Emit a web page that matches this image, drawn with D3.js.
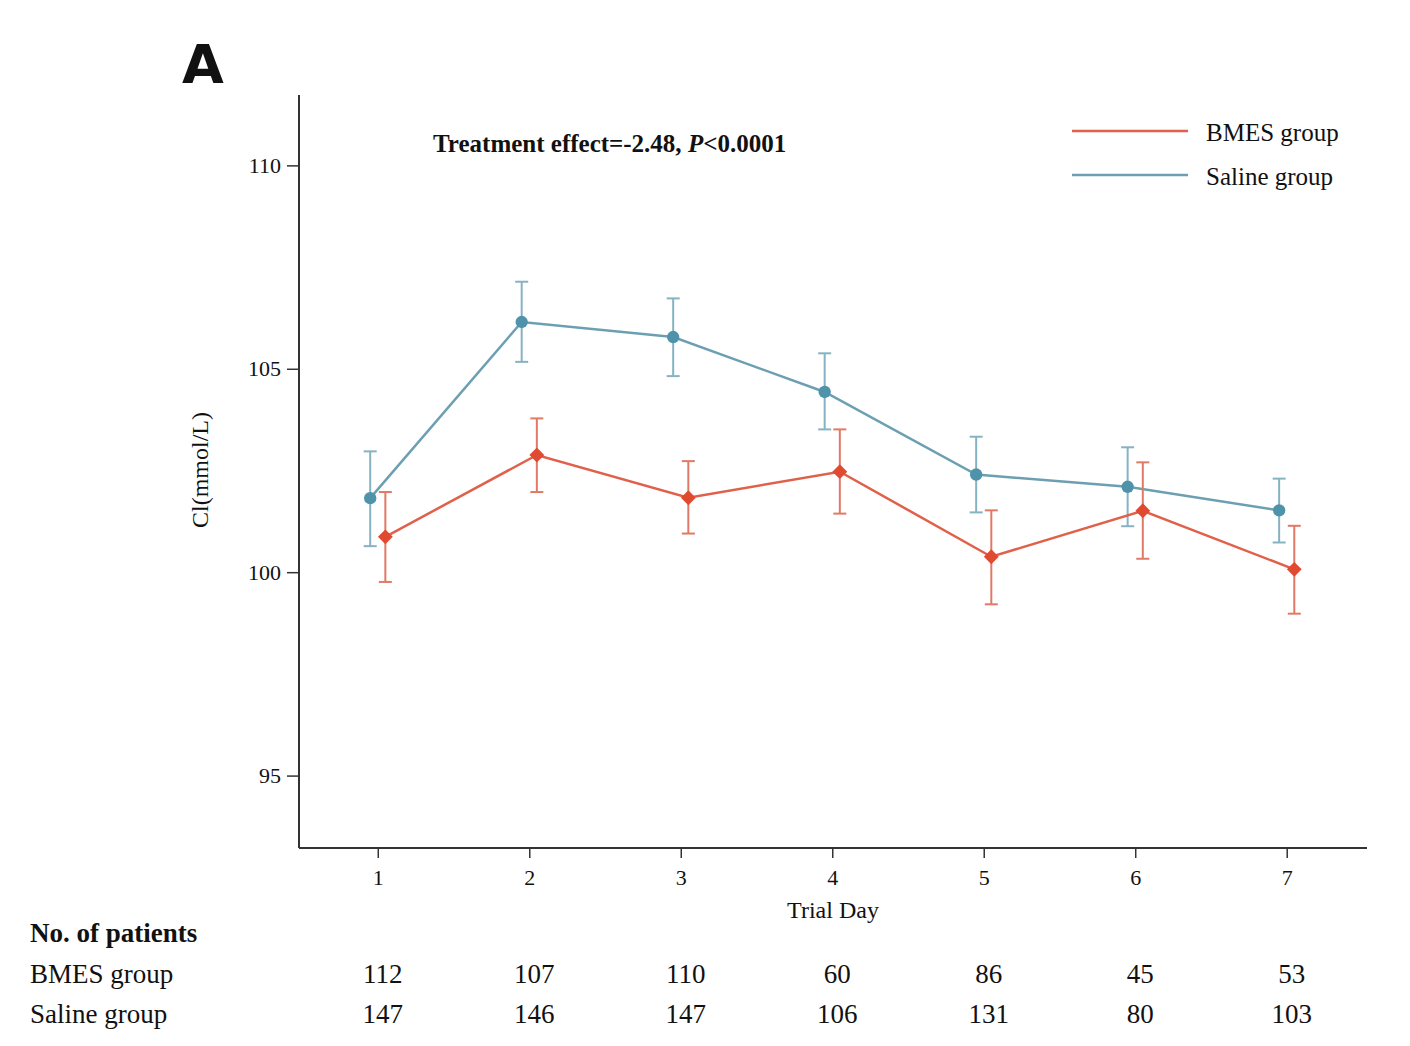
<!DOCTYPE html>
<html>
<head>
<meta charset="utf-8">
<script src="https://cdn.jsdelivr.net/npm/d3@7"></script>
<style>
  body { margin: 0; background: #fff; }
  text { font-family: "Liberation Serif", "Times New Roman", serif; fill: #111; }
</style>
</head>
<body>
<div id="chart"></div>
<script>
"use strict";

// trial days on the x axis
const days = [1, 2, 3, 4, 5, 6, 7];
const yTicks = [95, 100, 105, 110];

// Cl (mmol/L), mean with lower / upper error bars
const salineMean  = [101.82, 106.15, 105.78, 104.43, 102.40, 102.10, 101.52];
const salineLow   = [100.64, 105.17, 104.82, 103.51, 101.47, 101.13, 100.73];
const salineHigh  = [102.97, 107.14, 106.73, 105.38, 103.33, 103.07, 102.30];

const bmesMean    = [100.87, 102.88, 101.83, 102.47, 100.38, 101.51, 100.07];
const bmesLow     = [99.76, 101.97, 100.95, 101.44, 99.21, 100.33, 98.98];
const bmesHigh    = [101.97, 103.78, 102.73, 103.51, 101.52, 102.70, 101.14];

// number of patients per day
const bmesCount   = [112, 107, 110, 60, 86, 45, 53];
const salineCount = [147, 146, 147, 106, 131, 80, 103];

const seriesNames = ["BMES group", "Saline group"];

const width = 1410, height = 1046;
const red = "#e04a31", redLine = "#e0614a", redBar = "#e07a66";
const blue = "#4f93ab", blueLine = "#6c9fb1", blueBar = "#86b3c3";

const svg = d3.select("#chart").append("svg")
  .attr("width", width)
  .attr("height", height);

/* scales */
const x = d3.scaleLinear().domain([0.48, 7.53]).range([299, 1367]);
const y = d3.scaleLinear().domain([93.22, 111.73]).range([848, 95]);

/* axes */
const yAxis = svg.append("g")
  .attr("transform", "translate(299,0)")
  .call(d3.axisLeft(y).tickValues(yTicks).tickSize(12).tickPadding(6));
const xAxis = svg.append("g")
  .attr("transform", "translate(0,848)")
  .call(d3.axisBottom(x).tickValues(days).tickFormat(d3.format("d")).tickSize(10).tickPadding(11));

[yAxis, xAxis].forEach(function(a) {
  a.select(".domain").attr("stroke", "#333").attr("stroke-width", 2);
  a.selectAll(".tick line").attr("stroke", "#333").attr("stroke-width", 1.5);
  a.selectAll(".tick text")
    .style("font-family", "Liberation Serif, serif")
    .style("font-size", "22px")
    .attr("fill", "#222");
});
// make the axis lines span the full plot without end caps
xAxis.select(".domain").attr("d", "M299,0H1367");
yAxis.select(".domain").attr("d", "M0,95V848");

/* axis titles */
svg.append("text")
  .attr("x", 833).attr("y", 918)
  .attr("text-anchor", "middle")
  .style("font-size", "24px")
  .text("Trial Day");

svg.append("text")
  .attr("transform", "translate(208,470) rotate(-90)")
  .attr("text-anchor", "middle")
  .style("font-size", "24px")
  .text("Cl(mmol/L)");

/* panel letter */
svg.append("text")
  .attr("x", 182).attr("y", 83)
  .style("font-family", "DejaVu Sans, sans-serif")
  .style("font-size", "54px")
  .style("font-weight", "bold")
  .text("A");

/* annotation */
const note = svg.append("text")
  .attr("x", 433).attr("y", 152)
  .style("font-size", "25px")
  .style("font-weight", "bold");
note.append("tspan").text("Treatment effect=-2.48, ");
note.append("tspan").style("font-style", "italic").text("P");
note.append("tspan").text("<0.0001");

/* series drawing */
function drawSeries(mean, low, high, offset, lineColor, barColor, markColor, marker) {
  const pts = days.map(function(d, i) {
    return { day: d, m: mean[i], lo: low[i], hi: high[i] };
  });
  const g = svg.append("g");

  // error bars
  const eb = g.selectAll(".eb").data(pts).enter().append("g")
    .attr("stroke", barColor).attr("stroke-width", 2);
  eb.append("line")
    .attr("x1", function(d) { return x(d.day + offset); })
    .attr("x2", function(d) { return x(d.day + offset); })
    .attr("y1", function(d) { return y(d.lo); })
    .attr("y2", function(d) { return y(d.hi); });
  eb.append("line")
    .attr("x1", function(d) { return x(d.day + offset) - 6.5; })
    .attr("x2", function(d) { return x(d.day + offset) + 6.5; })
    .attr("y1", function(d) { return y(d.hi); })
    .attr("y2", function(d) { return y(d.hi); });
  eb.append("line")
    .attr("x1", function(d) { return x(d.day + offset) - 6.5; })
    .attr("x2", function(d) { return x(d.day + offset) + 6.5; })
    .attr("y1", function(d) { return y(d.lo); })
    .attr("y2", function(d) { return y(d.lo); });

  // line
  g.append("path")
    .datum(pts)
    .attr("fill", "none")
    .attr("stroke", lineColor)
    .attr("stroke-width", 2.5)
    .attr("d", d3.line()
      .x(function(d) { return x(d.day + offset); })
      .y(function(d) { return y(d.m); }));

  // markers
  g.selectAll(".mk").data(pts).enter().append("path")
    .attr("transform", function(d) {
      return "translate(" + x(d.day + offset) + "," + y(d.m) + ")" + (marker === "diamond" ? " rotate(45)" : "");
    })
    .attr("d", marker === "diamond"
      ? d3.symbol().type(d3.symbolSquare).size(110)()
      : d3.symbol().type(d3.symbolCircle).size(120)())
    .attr("fill", markColor);
}

drawSeries(salineMean, salineLow, salineHigh, -0.05, blueLine, blueBar, blue, "circle");
drawSeries(bmesMean, bmesLow, bmesHigh, 0.05, redLine, redBar, red, "diamond");

/* legend */
const legend = svg.append("g");
[[redLine, 131], [blueLine, 175]].forEach(function(l, i) {
  legend.append("line")
    .attr("x1", 1072).attr("x2", 1188)
    .attr("y1", l[1]).attr("y2", l[1])
    .attr("stroke", l[0]).attr("stroke-width", 2.5);
  legend.append("text")
    .attr("x", 1206).attr("y", l[1] + 10)
    .style("font-size", "25px")
    .attr("fill", "#222")
    .text(seriesNames[i]);
});

/* patient numbers table */
svg.append("text")
  .attr("x", 30).attr("y", 942)
  .style("font-size", "27px")
  .style("font-weight", "bold")
  .text("No. of patients");

[[seriesNames[0], bmesCount, 983], [seriesNames[1], salineCount, 1023]].forEach(function(row) {
  svg.append("text")
    .attr("x", 30).attr("y", row[2])
    .style("font-size", "27px")
    .text(row[0]);
  svg.selectAll(null).data(row[1]).enter().append("text")
    .attr("x", function(d, i) { return x(days[i]) + 5; })
    .attr("y", row[2])
    .attr("text-anchor", "middle")
    .style("font-size", "27px")
    .text(function(d) { return d; });
});
</script>
</body>
</html>
